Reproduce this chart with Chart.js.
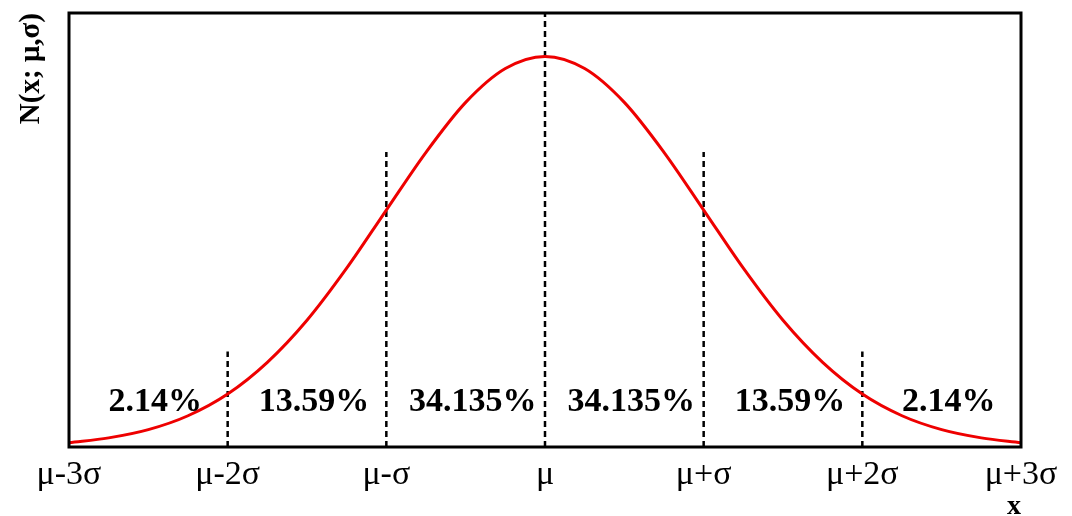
<!DOCTYPE html>
<html>
<head>
<meta charset="utf-8">
<script src="https://cdn.jsdelivr.net/npm/chart.js@4.4.1/dist/chart.umd.min.js"></script>
<style>
  html, body { margin: 0; padding: 0; background: #fff; }
  #wrap { width: 1072px; height: 516px; }
</style>
</head>
<body>
<div id="wrap"><canvas id="grafica" width="1072" height="516"></canvas></div>
<script>
// posiciones en unidades de sigma
const xs = [-3, -2.75, -2.5, -2.25, -2, -1.75, -1.5, -1.25, -1, -0.75, -0.5, -0.25, 0,
            0.25, 0.5, 0.75, 1, 1.25, 1.5, 1.75, 2, 2.25, 2.5, 2.75, 3];
// altura de la curva (0 = eje, 100 = borde superior)
const alturas = [1.0, 2.1, 4.0, 7.2, 12.2, 19.5, 29.2, 41.2, 54.6, 67.9, 79.4, 87.2, 90,
                 87.2, 79.4, 67.9, 54.6, 41.2, 29.2, 19.5, 12.2, 7.2, 4.0, 2.1, 1.0];

// lineas punteadas verticales
const guiasX = [-2, -1, 0, 1, 2];
const guiasAlto = [22, 68, 100, 68, 22];

// etiquetas del eje x
const ticksX = [-3, -2, -1, 0, 1, 2, 3];
const etiquetasX = ['\u03bc-3\u03c3', '\u03bc-2\u03c3', '\u03bc-\u03c3', '\u03bc', '\u03bc+\u03c3', '\u03bc+2\u03c3', '\u03bc+3\u03c3'];

// porcentajes por region
const regionesX = [-2.5, -1.5, -0.5, 0.5, 1.5, 2.5];
const porcentajes = ['2.14%', '13.59%', '34.135%', '34.135%', '13.59%', '2.14%'];

const serif = '"Liberation Serif", "Times New Roman", serif';

const datasets = [{
    data: xs.map((x, i) => ({ x: x, y: alturas[i] })),
    borderColor: '#ee0000',
    borderWidth: 3,
    pointRadius: 0,
    cubicInterpolationMode: 'monotone',
    order: 0
}];
guiasX.forEach((gx, i) => {
    datasets.push({
        data: [{ x: gx, y: 0 }, { x: gx, y: guiasAlto[i] }],
        borderColor: '#000000',
        borderWidth: 2.5,
        borderDash: [6, 4],
        pointRadius: 0,
        order: 1
    });
});

// marco y porcentajes
const extras = {
    id: 'extras',
    afterDatasetsDraw(chart) {
        const ctx = chart.ctx;
        const a = chart.chartArea;
        const sx = chart.scales.x;
        const sy = chart.scales.y;
        ctx.save();
        ctx.fillStyle = '#000000';
        ctx.font = 'bold 34px ' + serif;
        ctx.textAlign = 'center';
        ctx.textBaseline = 'alphabetic';
        regionesX.forEach((rx, i) => {
            ctx.fillText(porcentajes[i], sx.getPixelForValue(rx) + 7, sy.getPixelForValue(8.3));
        });
        ctx.strokeStyle = '#000000';
        ctx.lineWidth = 3;
        ctx.strokeRect(a.left, a.top, a.right - a.left, a.bottom - a.top);
        ctx.restore();
    }
};

new Chart(document.getElementById('grafica'), {
    type: 'line',
    data: { datasets: datasets },
    options: {
        responsive: false,
        animation: false,
        layout: { padding: { top: 13, right: 51, left: 0, bottom: 0 } },
        plugins: { legend: { display: false }, tooltip: { enabled: false } },
        scales: {
            x: {
                type: 'linear',
                min: -3,
                max: 3,
                afterFit: (s) => { s.height = 69; },
                afterBuildTicks: (s) => { s.ticks = ticksX.map(v => ({ value: v })); },
                grid: { display: false },
                border: { display: false },
                ticks: {
                    color: '#000000',
                    padding: 0,
                    maxRotation: 0,
                    autoSkip: false,
                    font: { family: serif, size: 34 },
                    callback: (v) => etiquetasX[ticksX.indexOf(v)]
                },
                title: {
                    display: true,
                    text: 'x',
                    align: 'end',
                    color: '#000000',
                    padding: { top: 0, bottom: -8 },
                    font: { family: serif, size: 28, weight: 'bold' }
                }
            },
            y: {
                min: 0,
                max: 100,
                afterFit: (s) => { s.width = 69; },
                grid: { display: false },
                border: { display: false },
                ticks: { display: false },
                title: {
                    display: true,
                    text: 'N(x; \u03bc,\u03c3)',
                    align: 'end',
                    color: '#000000',
                    padding: { top: 14, bottom: 0 },
                    font: { family: serif, size: 29, weight: 'bold' }
                }
            }
        }
    },
    plugins: [extras]
});
</script>
</body>
</html>
